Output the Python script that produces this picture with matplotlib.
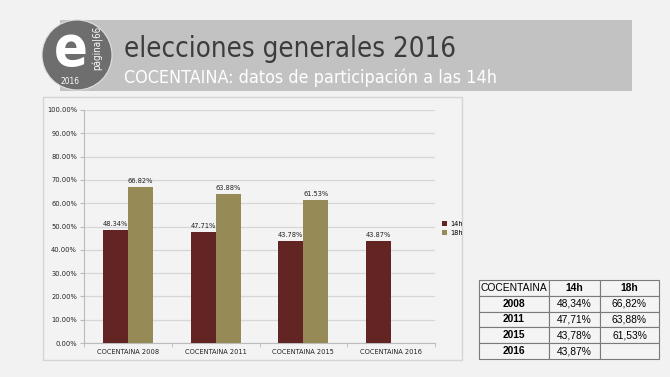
import numpy as np
import matplotlib.pyplot as plt
from matplotlib.patches import Rectangle, Circle

categories = ['COCENTAINA 2008', 'COCENTAINA 2011', 'COCENTAINA 2015', 'COCENTAINA 2016']
part_14h = [48.34, 47.71, 43.78, 43.87]
part_18h = [66.82, 63.88, 61.53, np.nan]
table_years = ['2008', '2011', '2015', '2016']
table_14h = ['48,34%', '47,71%', '43,78%', '43,87%']
table_18h = ['66,82%', '63,88%', '61,53%', '']

NARROW = ['DejaVu Sans']
ST = 'condensed'
C14 = '#632424'
C18 = '#968b56'

fig = plt.figure(figsize=(6.7, 3.77), dpi=100)
fig.patch.set_facecolor('#f2f2f2')

# decoration layer in pixel coordinates
deco = fig.add_axes([0, 0, 1, 1])
deco.set_xlim(0, 670)
deco.set_ylim(377, 0)
deco.axis('off')
deco.add_patch(Rectangle((60, 20), 572, 71, facecolor='#c2c2c2', edgecolor='none'))
deco.add_patch(Circle((77, 55), 35, facecolor='#6e6e6e', edgecolor='#e0e0e0', lw=0.8))
deco.text(71, 50, 'e', color='white', fontsize=40, fontweight='bold', ha='center', va='center',
          family=NARROW, stretch=ST)
deco.text(98, 48, 'página|66', color='white', fontsize=7, rotation=90, ha='center', va='center',
          family=NARROW, stretch=ST)
deco.text(70, 82, '2016', color='white', fontsize=6, ha='center', va='center',
          family=NARROW, stretch=ST)
deco.text(124, 57, 'elecciones generales 2016', color='#3c3c3c', fontsize=19.8,
          ha='left', va='baseline', family=NARROW, stretch=ST)
deco.text(124, 83, 'COCENTAINA: datos de participación a las 14h', color='white', fontsize=12.9,
          ha='left', va='baseline', family=NARROW, stretch=ST)
# chart panel
deco.add_patch(Rectangle((43, 97), 419, 263, facecolor='#f3f3f3', edgecolor='#d4d4d4', lw=1))

# bar chart
ax = fig.add_axes([84 / 670, (377 - 343) / 377, 351 / 670, 233 / 377])
ax.set_facecolor('#f3f3f3')
x = np.arange(len(categories))
w = 0.285
ax.bar(x - w, part_14h, w, align='edge', color=C14, label='14h', zorder=3)
ax.bar(x, part_18h, w, align='edge', color=C18, label='18h', zorder=3)
for i in range(len(categories)):
    ax.text(x[i] - w / 2, part_14h[i] + 1.3, f'{part_14h[i]:.2f}%', ha='center', va='bottom',
            fontsize=5.3, family=NARROW, stretch=ST, color='#222222')
    if not np.isnan(part_18h[i]):
        ax.text(x[i] + w / 2, part_18h[i] + 1.3, f'{part_18h[i]:.2f}%', ha='center', va='bottom',
                fontsize=5.3, family=NARROW, stretch=ST, color='#222222')
ax.set_xlim(-0.5, len(categories) - 0.5)
ax.set_ylim(0, 100)
ax.set_yticks(np.arange(0, 101, 10))
ax.set_yticklabels([f'{v:.2f}%' for v in np.arange(0, 101, 10)], fontsize=5.3, family=NARROW,
                   stretch=ST, color='#222222')
ax.set_xticks(x)
ax.set_xticklabels(categories, fontsize=5.3, family=NARROW, stretch=ST, color='#222222')
ax.set_xticks(np.arange(-0.5, len(categories)), minor=True)
ax.tick_params(axis='x', which='major', length=0, pad=4)
ax.tick_params(axis='x', which='minor', length=3, color='#bbbbbb')
ax.tick_params(axis='y', length=3, color='#bbbbbb', pad=2)
ax.grid(axis='y', color='#d6d6d6', lw=0.9, zorder=0)
for s in ['top', 'right']:
    ax.spines[s].set_visible(False)
ax.spines['left'].set_color('#bbbbbb')
ax.spines['bottom'].set_color('#bbbbbb')
ax.legend(loc='center left', bbox_to_anchor=(1.0, 0.49), frameon=False,
          handlelength=0.7, handleheight=0.7, handletextpad=0.5, labelspacing=0.4,
          prop={'family': NARROW, 'size': 5.3, 'stretch': ST})

# table
tax = fig.add_axes([479 / 670, (377 - 359) / 377, 180 / 670, 79 / 377])
tax.axis('off')
cell_text = [['COCENTAINA', '14h', '18h']]
for y, a, b in zip(table_years, table_14h, table_18h):
    cell_text.append([y, a, b])
tbl = tax.table(cellText=cell_text, bbox=[0, 0, 1, 1], colWidths=[70, 51, 59], cellLoc='center')
tbl.auto_set_font_size(False)
for (r, c), cell in tbl.get_celld().items():
    cell.set_facecolor('#f4f4f4')
    cell.set_edgecolor('#7a7a7a')
    cell.set_linewidth(0.8)
    txt = cell.get_text()
    txt.set_fontsize(7.4)
    txt.set_family(['Liberation Sans', 'DejaVu Sans'])
    if (r == 0 and c > 0) or (r > 0 and c == 0):
        txt.set_fontweight('bold')

fig.savefig('out.png', dpi=100, facecolor=fig.get_facecolor())
